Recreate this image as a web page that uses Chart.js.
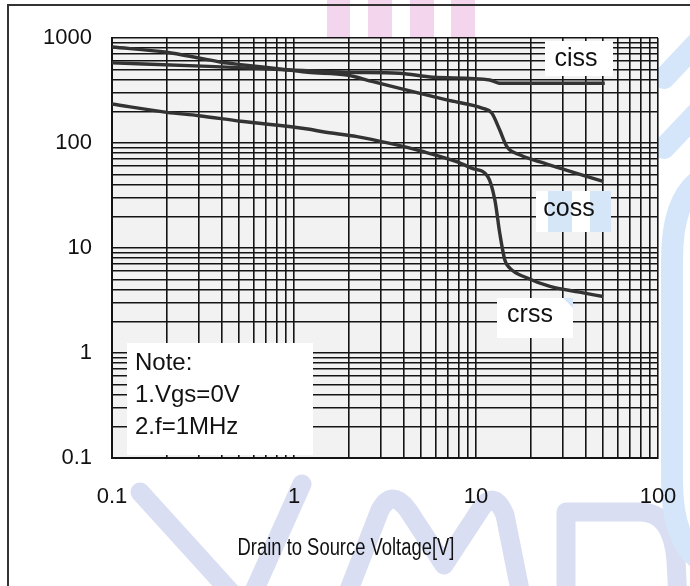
<!DOCTYPE html>
<html>
<head>
<meta charset="utf-8">
<script src="https://cdn.jsdelivr.net/npm/chart.js@4/dist/chart.umd.min.js"></script>
<style>
  html,body{margin:0;padding:0;background:#fff;}
  #wrap{width:690px;height:586px;position:relative;}
</style>
</head>
<body>
<div id="wrap"><canvas id="c" width="690" height="586"></canvas></div>
<script>
// ---- data ----
const cissV = [0.1, 0.34, 0.95, 1.95, 3.8, 5.8, 11.9, 13.4, 51];
const cissC = [580, 537, 496, 471, 462, 423, 398, 371, 371];

const cossV = [0.1, 0.2, 0.3, 0.4, 0.51, 0.69, 0.93, 1.19, 1.95, 2.72, 4.5, 6.9, 10.9, 12.2, 13.5, 14.8, 17.5, 22.5, 31.6, 50];
const cossC = [820, 731, 645, 587, 557, 526, 496, 471, 444, 384, 308, 257, 214, 193, 133, 92, 77, 66, 55, 43];

const crssV = [0.1, 0.2, 0.3, 0.51, 1.19, 1.44, 2.22, 3.37, 5.1, 7.9, 9.6, 11.6, 12.7, 13.5, 14.4, 15.3, 19, 25.5, 37, 50];
const crssC = [235, 196, 182, 161, 136, 128, 115, 99, 83, 66, 57, 48, 28.6, 13.9, 7.7, 6.45, 5.2, 4.3, 3.8, 3.45];

const xTickValues = [0.1, 1, 10, 100];
const xTickLabels = ['0.1', '1', '10', '100'];
const yTickValues = [0.1, 1, 10, 100, 1000];
const yTickLabels = ['0.1', '1', '10', '100', '1000'];

const xGrid = [0.1,0.2,0.3,0.4,0.5,0.6,0.7,0.8,0.9,1,2,3,4,5,6,7,8,9,10,20,30,40,50,60,70,80,90,100];
const yGrid = [0.1,0.2,0.3,0.4,0.5,0.6,0.7,0.8,0.9,1,2,3,4,5,6,7,8,9,10,20,30,40,50,60,70,80,90,100,200,300,400,500,600,700,800,900,1000];

const seriesNames = ['ciss', 'coss', 'crss'];
const xTitle = 'Drain to Source Voltage[V]';
const noteLines = ['Note:', '1.Vgs=0V', '2.f=1MHz'];

const FONT = "'Liberation Sans', Arial, Helvetica, sans-serif";
const GRID = '#141414';

function pts(xs, ys){ return xs.map((x,i)=>({x:x, y:ys[i]})); }

const deco = {
  id: 'deco',
  beforeDraw(chart){
    const ctx = chart.ctx;
    const a = chart.chartArea;
    ctx.save();
    ctx.fillStyle = '#fff';
    ctx.fillRect(0,0,chart.width,chart.height);
    // watermark (pink bars, light blue letters)
    ctx.fillStyle = '#f3d5ee';
    [[327,23],[368,24],[410,24],[451,24]].forEach(b=>ctx.fillRect(b[0],0,b[1],40));
    ctx.strokeStyle = '#d9def2';
    ctx.lineWidth = 19;
    ctx.lineCap = 'round';
    ctx.lineJoin = 'round';
    ctx.beginPath();
    ctx.moveTo(140,492); ctx.lineTo(238,600);
    ctx.moveTo(302,484); ctx.lineTo(250,600);
    ctx.moveTo(345,600); ctx.lineTo(380,510); ctx.quadraticCurveTo(392,488,408,510); ctx.lineTo(444,565);
    ctx.lineTo(480,510); ctx.quadraticCurveTo(494,488,505,515); ctx.lineTo(522,600);
    ctx.moveTo(566,600); ctx.lineTo(566,512);
    ctx.moveTo(566,512); ctx.lineTo(640,512); ctx.quadraticCurveTo(672,512,676,560); ctx.lineTo(678,600);
    ctx.stroke();
    ctx.strokeStyle = '#d6e6fa';
    ctx.lineWidth = 22;
    ctx.beginPath();
    ctx.moveTo(700,40); ctx.lineTo(664,78);
    ctx.moveTo(700,110); ctx.lineTo(664,148);
    ctx.moveTo(700,180); ctx.quadraticCurveTo(672,200,672,260); ctx.lineTo(672,480); ctx.quadraticCurveTo(672,540,700,560);
    ctx.stroke();
    // plot background
    ctx.fillStyle = '#f2f2f2';
    ctx.fillRect(a.left, a.top, a.right-a.left, a.bottom-a.top);
    ctx.restore();
  },
  beforeDatasetsDraw(chart){
    const ctx = chart.ctx;
    ctx.save();
    ctx.fillStyle = '#fff';
    // note box
    ctx.fillRect(127,343,186,112);
    // series label boxes
    ctx.fillRect(545,41,68,35);
    ctx.fillRect(536,191,75,41);
    ctx.fillRect(497,298,76,40);
    ctx.fillStyle = '#d6e6f9';
    ctx.fillRect(548,191,24,41);
    ctx.fillRect(590,191,21,41);
    ctx.beginPath(); ctx.moveTo(563,298); ctx.lineTo(573,298); ctx.lineTo(573,308); ctx.closePath(); ctx.fill();
    ctx.fillStyle = '#111';
    ctx.font = '24px ' + FONT;
    ctx.textBaseline = 'middle';
    ctx.textAlign = 'left';
    ctx.fillText(noteLines[0], 135, 363);
    ctx.fillText(noteLines[1], 135, 395);
    ctx.fillText(noteLines[2], 135, 427);
    ctx.font = '25px ' + FONT;
    ctx.textAlign = 'center';
    ctx.fillText(seriesNames[0], 576, 59);
    ctx.fillText(seriesNames[1], 569, 209);
    ctx.fillText(seriesNames[2], 530, 315);
    ctx.restore();
  },
  afterDraw(chart){
    const ctx = chart.ctx;
    ctx.save();
    // axis title (condensed, as in the reference)
    ctx.fillStyle = '#111';
    ctx.font = '23px ' + FONT;
    ctx.textBaseline = 'middle';
    ctx.textAlign = 'center';
    ctx.translate(346, 549);
    ctx.scale(0.8, 1);
    ctx.fillText(xTitle, 0, 0);
    ctx.restore();
    ctx.save();
    ctx.strokeStyle = '#333';
    ctx.lineWidth = 2;
    ctx.beginPath();
    ctx.moveTo(7,5); ctx.lineTo(690,5);
    ctx.moveTo(8,5); ctx.lineTo(8,586);
    ctx.stroke();
    ctx.restore();
  }
};

const lineStyle = {borderColor:'#333', borderWidth:3.4, pointRadius:0, cubicInterpolationMode:'monotone', fill:false};

new Chart(document.getElementById('c'), {
  type: 'line',
  data: {
    datasets: [
      Object.assign({label: seriesNames[0], data: pts(cissV, cissC)}, lineStyle),
      Object.assign({label: seriesNames[1], data: pts(cossV, cossC)}, lineStyle),
      Object.assign({label: seriesNames[2], data: pts(crssV, crssC)}, lineStyle)
    ]
  },
  options: {
    responsive: false,
    animation: false,
    events: [],
    layout: {padding: {top: 38, right: 32, left: 0, bottom: 0}},
    plugins: {legend: {display:false}, tooltip: {enabled:false}, title:{display:false}},
    scales: {
      x: {
        type: 'logarithmic', min: 0.1, max: 100,
        afterBuildTicks: s => { s.ticks = xGrid.map(v=>({value:v})); },
        afterFit: s => { s.height = 128; },
        grid: {color: GRID, lineWidth: 1.6, drawTicks: true, tickLength: 24, tickColor: 'rgba(0,0,0,0)'},
        border: {color: GRID, width: 2},
        ticks: {
          autoSkip: false, maxRotation: 0, padding: 2, color: '#111',
          font: {family: FONT, size: 22},
          callback: v => { const i = xTickValues.indexOf(v); return i >= 0 ? xTickLabels[i] : ''; }
        }
      },
      y: {
        type: 'logarithmic', min: 0.1, max: 1000,
        afterBuildTicks: s => { s.ticks = yGrid.map(v=>({value:v})); },
        afterFit: s => { s.width = 112; },
        grid: {color: GRID, lineWidth: 1.6, drawTicks: false},
        border: {color: GRID, width: 2},
        ticks: {
          autoSkip: false, padding: 20, color: '#111',
          font: {family: FONT, size: 22},
          callback: v => { const i = yTickValues.indexOf(v); return i >= 0 ? yTickLabels[i] : ''; }
        }
      }
    }
  },
  plugins: [deco]
});
</script>
</body>
</html>
